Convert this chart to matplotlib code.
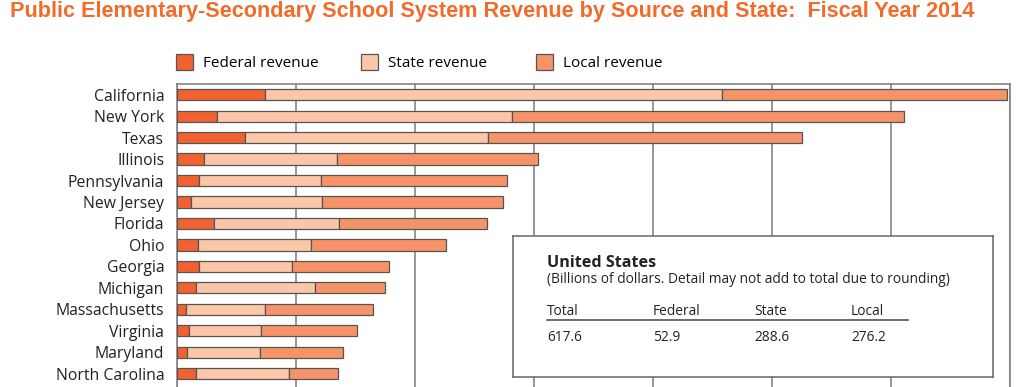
import matplotlib
matplotlib.use("Agg")
import matplotlib.pyplot as plt
from matplotlib.patches import Patch
import numpy as np

# billions of dollars
states = ["California", "New York", "Texas", "Illinois", "Pennsylvania",
          "New Jersey", "Florida", "Ohio", "Georgia", "Michigan",
          "Massachusetts", "Virginia", "Maryland", "North Carolina"]
federal = [7.4, 3.4, 5.7, 2.3, 1.85, 1.2, 3.1, 1.8, 1.85, 1.6, 0.8, 1.05, 0.87, 1.6]
state = [38.4, 24.8, 20.5, 11.2, 10.3, 11.0, 10.5, 9.5, 7.85, 10.05, 6.6, 6.0, 6.15, 7.85]
local = [24.0, 32.9, 26.4, 16.9, 15.6, 15.25, 12.5, 11.3, 8.15, 5.9, 9.1, 8.1, 7.0, 4.1]

us_heads = ["Total", "Federal", "State", "Local"]
us_vals = ["617.6", "52.9", "288.6", "276.2"]

c_fed = "#F26230"
c_state = "#FCC7A9"
c_local = "#F79467"
edge = "#555555"
grid = "#7a7a7a"
W, H = 1024, 387

plt.rcParams["font.family"] = ["Open Sans", "DejaVu Sans"]

fig = plt.figure(figsize=(10.24, 3.87), dpi=100)
ax = fig.add_axes([176.7 / W, -0.049, (1009.5 - 176.7) / W, 0.831])

y = np.arange(len(states))
fed = np.array(federal)
st = np.array(state)
lo = np.array(local)
h = 0.52
ax.barh(y, fed, height=h, color=c_fed, edgecolor=edge, linewidth=0.9, zorder=3)
ax.barh(y, st, left=fed, height=h, color=c_state, edgecolor=edge, linewidth=0.9, zorder=3)
ax.barh(y, lo, left=fed + st, height=h, color=c_local, edgecolor=edge, linewidth=0.9, zorder=3)

ax.set_xlim(0, 70)
ax.set_ylim(14.5, -0.48)
ax.set_xticks(np.arange(0, 71, 10))
ax.xaxis.grid(True, color=grid, linewidth=1.1, zorder=0)
ax.tick_params(axis="x", length=0, labelbottom=False)
ax.set_yticks(y)
ax.set_yticklabels(states, fontsize=11.3, color="#222222")
ax.tick_params(axis="y", length=0, pad=9)
for s in ax.spines.values():
    s.set_color(grid)
    s.set_linewidth(1.1)

# title, sized to span the same width as the original
title = fig.text(10 / W, 1 - 11 / H,
                 "Public Elementary-Secondary School System Revenue by Source and State:  Fiscal Year 2014",
                 fontsize=15, fontweight="bold", color="#F26B2A", va="center", ha="left",
                 family=["Liberation Sans", "DejaVu Sans"])
r = fig.canvas.get_renderer()
tw = title.get_window_extent(r).width
title.set_fontsize(15 * 967 / tw)

# legend entries, one per position
entries = [("Federal revenue", c_fed, 180), ("State revenue", c_state, 365), ("Local revenue", c_local, 540)]
for lab, col, x0 in entries:
    fig.legend(handles=[Patch(facecolor=col, edgecolor=edge, linewidth=0.9, label=lab)],
               loc="center left", bbox_to_anchor=(x0 / W - 0.004, 1 - 62.5 / H), frameon=False,
               fontsize=11, handlelength=1.1, handleheight=1.25, handletextpad=0.65,
               borderpad=0, borderaxespad=0)

# United States summary box
bx = fig.add_axes([513.3 / W, 1 - 377 / H, (993.3 - 513.3) / W, (377 - 236) / H])
bx.set_xlim(513.3, 993.3)
bx.set_ylim(377, 236)
bx.set_xticks([])
bx.set_yticks([])
for s in bx.spines.values():
    s.set_color("#666666")
    s.set_linewidth(1.1)
bx.text(547, 263, "United States", fontsize=11.6, fontweight="bold", va="center", color="#222222")
bx.text(547, 279, "(Billions of dollars. Detail may not add to total due to rounding)",
        fontsize=9.9, va="center", color="#222222")
xs = [547, 653, 754, 851]
for xx, hd, v in zip(xs, us_heads, us_vals):
    bx.text(xx, 311, hd, fontsize=9.9, va="center", color="#222222")
    bx.text(xx, 337.5, v, fontsize=9.9, va="center", color="#222222")
bx.plot([547, 908], [320, 320], color="#444444", linewidth=1.1)

fig.savefig("out.png", dpi=100)
